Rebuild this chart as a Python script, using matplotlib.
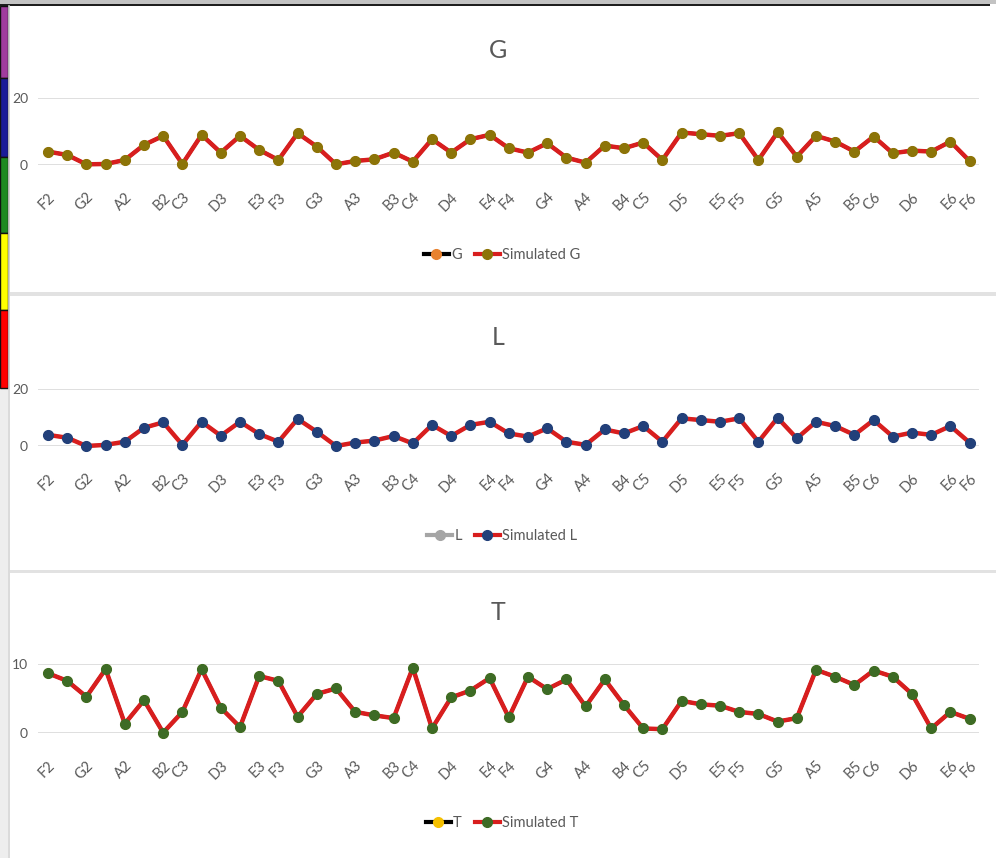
import matplotlib
matplotlib.use("Agg")
import matplotlib.pyplot as plt
from matplotlib.patches import Rectangle
from matplotlib.lines import Line2D

plt.rcParams['font.family'] = ['Lato', 'DejaVu Sans']

# Chromatic note names from F2 to F6; only natural notes get a visible label
notes = ["F2", "F#2", "G2", "G#2", "A2", "A#2", "B2",
         "C3", "C#3", "D3", "D#3", "E3", "F3", "F#3", "G3", "G#3", "A3", "A#3", "B3",
         "C4", "C#4", "D4", "D#4", "E4", "F4", "F#4", "G4", "G#4", "A4", "A#4", "B4",
         "C5", "C#5", "D5", "D#5", "E5", "F5", "F#5", "G5", "G#5", "A5", "A#5", "B5",
         "C6", "C#6", "D6", "D#6", "E6", "F6"]
tick_labels = [n if "#" not in n else "" for n in notes]

g_values = [4.0, 3.0, 0.2, 0.3, 1.5, 6.0, 8.7,
            0.3, 9.0, 3.7, 8.7, 4.5, 1.5, 9.5, 5.5, 0.2, 1.2, 1.7, 3.7,
            1.0, 7.7, 3.7, 7.7, 9.0, 5.0, 3.7, 6.5, 2.2, 0.7, 5.8, 5.0,
            6.7, 1.5, 9.7, 9.2, 8.7, 9.5, 1.5, 9.8, 2.5, 8.7, 7.0, 4.0,
            8.5, 3.5, 4.3, 4.0, 7.0, 1.2]
g_simulated = list(g_values)

l_values = [3.9, 2.9, 0.0, 0.4, 1.5, 6.4, 8.3,
            0.4, 8.5, 3.6, 8.5, 4.2, 1.5, 9.5, 5.0, 0.0, 1.2, 1.9, 3.5,
            0.9, 7.4, 3.5, 7.4, 8.5, 4.4, 3.3, 6.2, 1.5, 0.4, 5.8, 4.4,
            7.0, 1.5, 9.7, 9.1, 8.5, 9.7, 1.5, 9.9, 2.7, 8.5, 7.0, 3.9,
            9.1, 3.3, 4.7, 3.9, 7.0, 1.2]
l_simulated = list(l_values)

t_values = [8.7, 7.6, 5.3, 9.3, 1.4, 4.8, 0.1,
            3.1, 9.3, 3.7, 0.9, 8.3, 7.6, 2.4, 5.7, 6.5, 3.1, 2.6, 2.2,
            9.5, 0.7, 5.2, 6.2, 8.0, 2.3, 8.2, 6.4, 7.8, 3.9, 7.8, 4.1,
            0.7, 0.6, 4.7, 4.2, 4.0, 3.1, 2.8, 1.7, 2.2, 9.2, 8.2, 7.0,
            9.1, 8.2, 5.7, 0.7, 3.1, 2.1]
t_simulated = list(t_values)

W, H = 996, 858
fig = plt.figure(figsize=(W / 100, H / 100), dpi=100)
fig.patch.set_facecolor("white")

# Window frame: top bar, left colour strip, panel separators
frame = fig.add_axes([0, 0, 1, 1], zorder=0)
frame.set_xlim(0, W)
frame.set_ylim(H, 0)
frame.axis("off")
frame.add_patch(Rectangle((0, 0), W, 3.5, color="#c3c3c3", lw=0))
frame.add_patch(Rectangle((0, 3.5), 990, 2.5, color="#1e1e1e", lw=0))
frame.add_patch(Rectangle((0, 388), 8, H - 388, color="#eeeeee", lw=0))
frame.plot([8.8, 8.8], [6, H], color="#d4d4d4", lw=1.2)
strip_colors = ["#a03c9e", "#1a1a98", "#1f8a22", "#ffff00", "#ff0000"]
strip_edges = [6, 78, 157, 233, 310, 388]
for c, y0, y1 in zip(strip_colors, strip_edges[:-1], strip_edges[1:]):
    frame.add_patch(Rectangle((0, y0), 7.5, y1 - y0, facecolor=c,
                              edgecolor="#111111", lw=1.0))
for ysep in (294, 571.5):
    frame.add_patch(Rectangle((9.5, ysep - 2), W - 9.5, 3.5, color="#e2e2e2", lw=0))

text_gray = "#595959"
red_line = "#d81e1e"


def px_axes(left, right, top, bottom):
    return fig.add_axes([left / W, 1 - bottom / H, (right - left) / W, (bottom - top) / H],
                        zorder=2)


x = list(range(len(notes)))

panels = [
    dict(title="G", top=98, bottom=165, ymax=20, values=g_values, sim=g_simulated,
         line="#000000", mk="#e8822f", sim_mk="#8c7408", title_y=50, legend_y=255,
         sim_label="Simulated G"),
    dict(title="L", top=389, bottom=446, ymax=20, values=l_values, sim=l_simulated,
         line="#a5a5a5", mk="#a5a5a5", sim_mk="#22407a", title_y=337, legend_y=536,
         sim_label="Simulated L"),
    dict(title="T", top=664.3, bottom=733.3, ymax=10, values=t_values, sim=t_simulated,
         line="#000000", mk="#f5c000", sim_mk="#3d6b25", title_y=612, legend_y=823,
         sim_label="Simulated T"),
]

for p in panels:
    ax = px_axes(38.4, 979.2, p["top"], p["bottom"])
    ax.set_facecolor("none")
    ax.set_xlim(-0.5, len(notes) - 0.5)
    ax.set_ylim(0, p["ymax"])
    ax.set_yticks([0, p["ymax"]])
    ax.set_yticklabels([str(v) for v in (0, p["ymax"])])
    ax.set_xticks(x)
    ax.set_xticklabels(tick_labels, rotation=45, ha="right", va="top",
                       rotation_mode="anchor")
    ax.tick_params(axis="y", length=0, pad=7.5, labelsize=10, labelcolor=text_gray)
    ax.tick_params(axis="x", length=0, pad=18, labelsize=10.5, labelcolor=text_gray)
    for s in ax.spines.values():
        s.set_visible(False)
    ax.grid(axis="y", color="#d9d9d9", lw=1.2)
    ax.set_axisbelow(True)

    ax.plot(x, p["values"], color=p["line"], lw=2.5, marker="o", ms=6.5,
            mfc=p["mk"], mec=p["mk"], clip_on=False, zorder=3)
    ax.plot(x, p["sim"], color=red_line, lw=3.2, marker="o", ms=7,
            mfc=p["sim_mk"], mec=p["sim_mk"], clip_on=False, zorder=4,
            solid_joinstyle="round")

    fig.text(498 / W, 1 - p["title_y"] / H, p["title"], ha="center", va="center",
             fontsize=18, color=text_gray)

    handles = [
        Line2D([], [], color=p["line"], lw=3, marker="o", ms=7, mfc=p["mk"], mec=p["mk"]),
        Line2D([], [], color=red_line, lw=3, marker="o", ms=7, mfc=p["sim_mk"],
               mec=p["sim_mk"]),
    ]
    fig.legend(handles, [p["title"], p["sim_label"]], loc="center",
               bbox_to_anchor=(502 / W, 1 - p["legend_y"] / H), ncol=2, frameon=False,
               fontsize=10.5, labelcolor=text_gray, handlelength=1.7, handletextpad=0.15,
               columnspacing=0.9)

fig.savefig("out.png", dpi=100, facecolor="white")
